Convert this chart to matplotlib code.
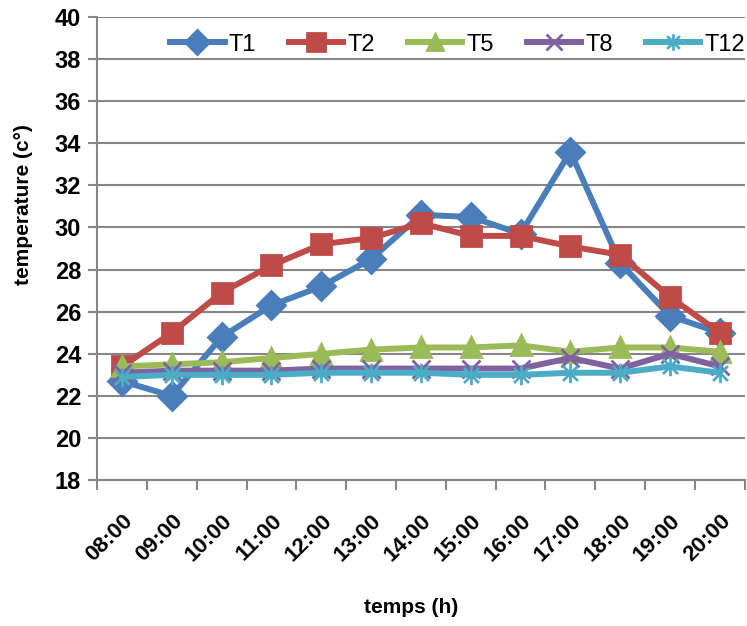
import numpy as np
import matplotlib
matplotlib.use("Agg")
import matplotlib.pyplot as plt
from matplotlib.path import Path

plt.rcParams['font.family'] = ['Liberation Sans', 'DejaVu Sans']

# hourly temperatures per sensor
hours = ['08:00', '09:00', '10:00', '11:00', '12:00', '13:00', '14:00',
         '15:00', '16:00', '17:00', '18:00', '19:00', '20:00']
t1 = [22.7, 22.0, 24.8, 26.3, 27.2, 28.5, 30.6, 30.5, 29.7, 33.6, 28.3, 25.8, 25.0]
t2 = [23.4, 25.0, 26.9, 28.2, 29.2, 29.5, 30.2, 29.6, 29.6, 29.1, 28.7, 26.7, 25.0]
t5 = [23.4, 23.5, 23.6, 23.8, 24.0, 24.2, 24.3, 24.3, 24.4, 24.1, 24.3, 24.3, 24.1]
t8 = [23.1, 23.2, 23.2, 23.2, 23.3, 23.3, 23.3, 23.3, 23.3, 23.8, 23.3, 24.0, 23.4]
t12 = [22.9, 23.0, 23.0, 23.0, 23.1, 23.1, 23.1, 23.0, 23.0, 23.1, 23.1, 23.4, 23.1]

# excel style star: x with a vertical bar
star = Path([(-1, -1), (1, 1), (-1, 1), (1, -1), (0, -1.3), (0, 1.3)],
            [Path.MOVETO, Path.LINETO, Path.MOVETO, Path.LINETO, Path.MOVETO, Path.LINETO])

series = [
    ('T1', t1, '#4A7EBB', 'D', 14),
    ('T2', t2, '#BE4B48', 's', 15),
    ('T5', t5, '#9BBB59', '^', 14),
    ('T8', t8, '#7F63A1', 'x', 13),
    ('T12', t12, '#4BACC6', star, 14),
]

fig = plt.figure(figsize=(7.47, 6.26), dpi=100)
ax = fig.add_axes([0.13, 0.233, 0.867, 0.74])

x = np.arange(len(hours)) + 0.5
for name, vals, col, mk, ms in series:
    ax.plot(x, vals, color=col, lw=4.3, marker=mk, markersize=ms,
            markerfacecolor=col, markeredgecolor=col, markeredgewidth=2,
            label=name, zorder=3)

ax.set_xlim(0, len(hours))
ax.set_ylim(18, 40)
ax.set_yticks(np.arange(18, 41, 2))
ax.set_xticks(np.arange(len(hours) + 1))
ax.set_xticklabels([])
ax.set_xticks(x, minor=True)
ax.set_xticklabels(hours, minor=True, rotation=45, ha='right', va='top',
                   rotation_mode='anchor', fontsize=16, fontweight='bold')
ax.tick_params(axis='x', which='minor', length=0, pad=22)
ax.tick_params(axis='x', which='major', length=7, width=1.5, color='#868686')
ax.tick_params(axis='y', length=6.5, width=1.5, color='#868686', labelsize=17, pad=5)
for lbl in ax.get_yticklabels():
    lbl.set_fontweight('bold')

ax.grid(axis='y', color='#868686', lw=1.5, zorder=0)
for s in ['top', 'right']:
    ax.spines[s].set_visible(False)
for s in ['left', 'bottom']:
    ax.spines[s].set_color('#868686')
    ax.spines[s].set_linewidth(1.5)

ax.set_ylabel('temperature (c°)', fontsize=15, fontweight='bold')
ax.yaxis.set_label_coords(-0.114, 0.594)
ax.yaxis.label.set_va('center')
ax.set_xlabel('temps (h)', fontsize=15, fontweight='bold')
ax.xaxis.set_label_coords(0.485, -0.274)
ax.xaxis.label.set_va('center')

ax.legend(loc='center right', bbox_to_anchor=(1.0, 0.94), ncol=5, frameon=False,
          fontsize=17, handlelength=2.3, columnspacing=1.4, handletextpad=0.17,
          borderaxespad=0, borderpad=0, markerscale=0.85)

fig.savefig('out.png', dpi=100)
